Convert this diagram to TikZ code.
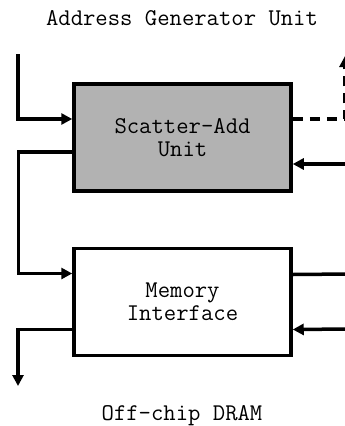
\documentclass[tikz,border=0pt]{standalone}
\usetikzlibrary{arrows.meta}
\usetikzlibrary{positioning}

\tikzset{
  unit/.style={draw, line width=3.5pt, minimum width=217pt, minimum height=107pt,
    inner sep=0pt, align=center, font=\ttfamily\fontsize{24}{23}\selectfont},
  flow/.style={line width=3.5pt, -{Triangle[length=11pt,width=11pt]}},
  wire/.style={line width=3.5pt},
  caption/.style={font=\ttfamily\fontsize{24}{23}\selectfont, inner sep=0pt}
}

\begin{document}
\begin{tikzpicture}[x=1pt,y=-1pt]
\useasboundingbox (0,0) rectangle (345,426);

\node[unit, fill=black!30] (sau) at (182.5,137.5) {Scatter-Add\\Unit};
\node[unit, below=54pt of sau] (mi) {Memory\\Interface};

\node[caption, anchor=base] (agu) at (182,25) {Address Generator Unit};
\node[caption, anchor=base] (dram) at (182,420) {Off-chip DRAM};

% free ends
\coordinate (top in) at (18,54);
\coordinate (bot out) at (18,386);
\coordinate (ret) at (345,56);
\coordinate (r1) at (350,164);
\coordinate (r2) at (350,274);
\coordinate (r3) at (350,329);

% left side
\draw[flow] (top in) |- ([yshift=18.5pt]sau.west);
\draw[flow] ([yshift=-14.5pt]sau.west) -- ++(-54pt,0) |- ([yshift=28.5pt]mi.west);
\draw[flow] ([yshift=-27.5pt]mi.west) -| (bot out);

% right side
\draw[flow, dash pattern=on 10pt off 7pt] ([yshift=18.5pt]sau.east) -| (ret);
\draw[flow] (r1) -- ([yshift=-26.5pt]sau.east);
\draw[wire] ([yshift=27.5pt]mi.east) -- (r2);
\draw[flow] (r3) -- ([yshift=-27.5pt]mi.east);

\end{tikzpicture}
\end{document}
